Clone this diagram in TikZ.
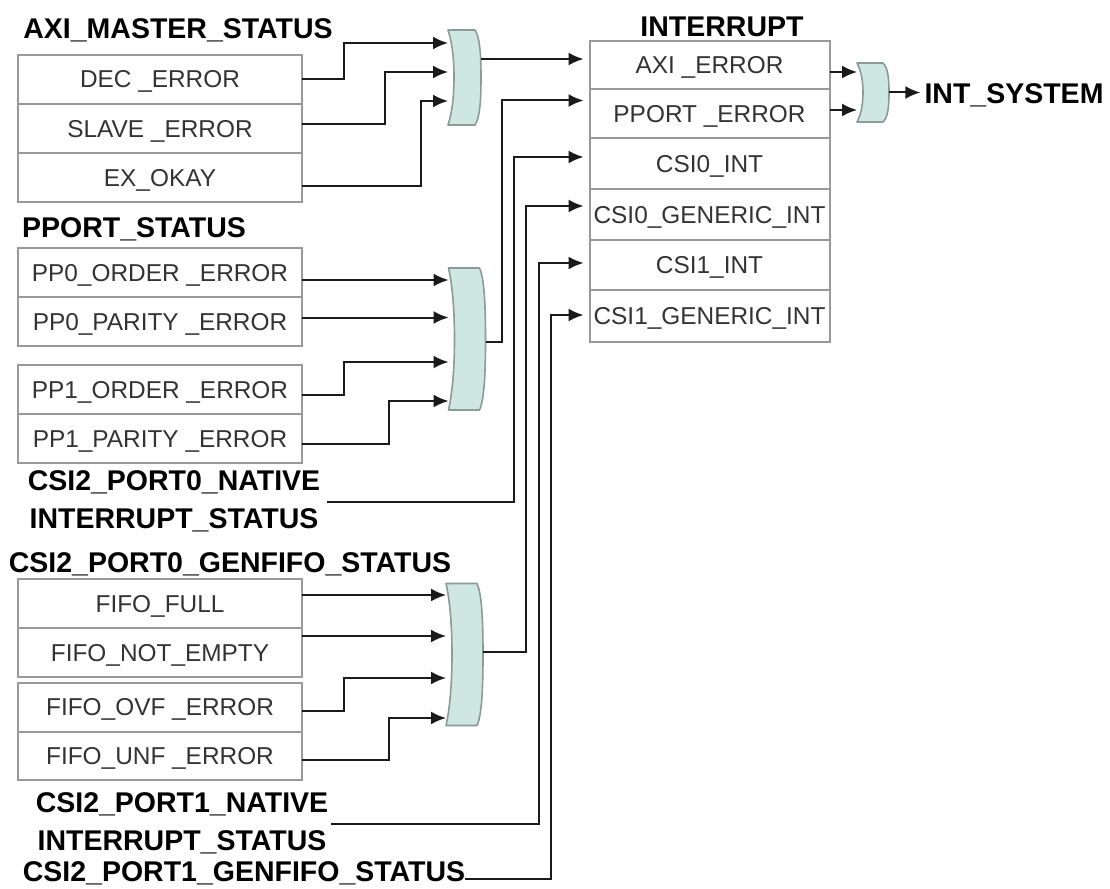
\documentclass[tikz,border=0pt]{standalone}
\usepackage{fontspec}
\setmainfont{Liberation Sans}
\usepackage{tikz}
\usetikzlibrary{arrows.meta,positioning,calc}
\definecolor{gateFill}{HTML}{CFE7E3}
\definecolor{gateLine}{HTML}{8C9A98}
\definecolor{cellLine}{HTML}{999999}
\definecolor{wireCol}{HTML}{1A1A1A}
\definecolor{cellText}{HTML}{333333}
\newcommand{\orgate}[5]{%
  \node[minimum width=#4pt, minimum height=#5pt, inner sep=0pt, outer sep=0pt] (#1) at (#2,#3) {};
  \draw[gatebody] (#1.north west) -- ([xshift=-6pt]#1.north east)
    .. controls ($(#1.north east)!0.15!(#1.east)+(-1,0)$) and ($(#1.north east)!0.55!(#1.east)$) .. (#1.east)
    .. controls ($(#1.south east)!0.55!(#1.east)$) and ($(#1.south east)!0.15!(#1.east)+(-1,0)$) .. ([xshift=-6pt]#1.south east)
    -- (#1.south west)
    .. controls ($(#1.south west)!0.25!(#1.west)+(4,0)$) and ($(#1.south west)!0.6!(#1.west)+(6,0)$) .. ([xshift=6pt]#1.west)
    .. controls ($(#1.north west)!0.6!(#1.west)+(6,0)$) and ($(#1.north west)!0.25!(#1.west)+(4,0)$) .. (#1.north west)
    -- cycle;
}
\begin{document}
\begin{tikzpicture}[
  x=1pt, y=-1pt, >={Latex[length=15pt,width=13pt]}, node distance=0pt,
  cell/.style={draw=cellLine, line width=2pt, minimum width=284pt, minimum height=49pt, inner sep=0pt, outer sep=0pt, text=cellText, text height=17pt, text depth=0pt, font=\fontsize{24.4}{26}\selectfont},
  irq/.style={cell, minimum width=240pt},
  head/.style={inner sep=0pt, align=center, text=black, font=\fontsize{28.5}{38}\selectfont\bfseries},
  gatebody/.style={draw=gateLine, fill=gateFill, line width=1.6pt, line join=round},
  wire/.style={->, draw=wireCol, line width=2pt}
]
\useasboundingbox (0,0) rectangle (1110,888);
% axi master status
\node[head] (axihead) at (178,30) {AXI\_MASTER\_STATUS};
\node[cell] (dec) at (160,79.5) {DEC \_ERROR};
\node[cell, below=of dec] (slave) {SLAVE \_ERROR};
\node[cell, below=of slave] (okay) {EX\_OKAY};
% pport status
\node[head] (pporthead) at (134,229) {PPORT\_STATUS};
\node[cell] (pp0o) at (160,272.5) {PP0\_ORDER \_ERROR};
\node[cell, below=of pp0o] (pp0p) {PP0\_PARITY \_ERROR};
\node[cell] (pp1o) at (160,389.5) {PP1\_ORDER \_ERROR};
\node[cell, below=of pp1o] (pp1p) {PP1\_PARITY \_ERROR};
\node[head] (nat0) at (174,501.5) {CSI2\_PORT0\_NATIVE\\INTERRUPT\_STATUS};
% genfifo status
\node[head] (gen0) at (230,564) {CSI2\_PORT0\_GENFIFO\_STATUS};
\node[cell] (full) at (160,603.5) {FIFO\_FULL};
\node[cell, below=of full] (nempty) {FIFO\_NOT\_EMPTY};
\node[cell] (ovf) at (160,707) {FIFO\_OVF \_ERROR};
\node[cell, below=of ovf, minimum height=48pt] (unf) {FIFO\_UNF \_ERROR};
\node[head] (nat1) at (182,823.5) {CSI2\_PORT1\_NATIVE\\INTERRUPT\_STATUS};
\node[head] (gen1) at (244,873) {CSI2\_PORT1\_GENFIFO\_STATUS};
% interrupt register
\node[head] (inthead) at (722,27) {INTERRUPT};
\node[irq, minimum height=48pt] (axi) at (709.5,65) {AXI \_ERROR};
\node[irq] (pport) at (709.5,113.5) {PPORT \_ERROR};
\node[irq, minimum height=51pt] (csi0) at (709.5,163.5) {CSI0\_INT};
\node[irq, minimum height=51pt] (csi0g) at (709.5,214.5) {CSI0\_GENERIC\_INT};
\node[irq, minimum height=50pt] (csi1) at (709.5,265) {CSI1\_INT};
\node[irq, minimum height=52pt] (csi1g) at (709.5,316) {CSI1\_GENERIC\_INT};
\node[head] (intsys) at (1014,95) {INT\_SYSTEM};
% gates
\orgate{gateaxi}{464.5}{77.5}{33}{95}
\orgate{gatepp}{467}{339}{37}{142}
\orgate{gatefifo}{464.5}{654.5}{37}{142}
\orgate{gateint}{873}{92.5}{32}{59}
% wire risers
\coordinate (bendl) at (344,0);
\coordinate (bendm) at (385,0);
\coordinate (bendn) at (389,0);
\coordinate (bendr) at (421,0);
\coordinate (riserpp) at (502,0);
\coordinate (risernat0) at (514,0);
\coordinate (riserfifo) at (526,0);
\coordinate (risernat1) at (539,0);
\coordinate (risergen1) at (551,0);
% gate inputs
\draw[wire] (dec.east) -- (dec.east -| bendl) |- ([yshift=34.5pt]gateaxi.west);
\draw[wire] ([yshift=4pt]slave.east) -- ([yshift=4pt]slave.east -| bendm) |- ([yshift=5.5pt]gateaxi.west);
\draw[wire] ([yshift=-8pt]okay.east) -- ([yshift=-8pt]okay.east -| bendr) |- ([yshift=-23.5pt]gateaxi.west);
\draw[wire] ([yshift=-7.5pt]pp0o.east) -- ([yshift=59pt]gatepp.west);
\draw[wire] ([yshift=4pt]pp0p.east) -- ([yshift=21.5pt]gatepp.west);
\draw[wire] ([yshift=-5.5pt]pp1o.east) -- ([yshift=-5.5pt]pp1o.east -| bendl) |- ([yshift=-23pt]gatepp.west);
\draw[wire] ([yshift=-5pt]pp1p.east) -- ([yshift=-5pt]pp1p.east -| bendn) |- ([yshift=-62pt]gatepp.west);
\draw[wire] ([yshift=8.5pt]full.east) -- ([yshift=59.5pt]gatefifo.west);
\draw[wire] ([yshift=16.5pt]nempty.east) -- ([yshift=18.5pt]gatefifo.west);
\draw[wire] ([yshift=-4pt]ovf.east) -- ([yshift=-4pt]ovf.east -| bendl) |- ([yshift=-23.5pt]gatefifo.west);
\draw[wire] ([yshift=-4pt]unf.east) -- ([yshift=-4pt]unf.east -| bendn) |- ([yshift=-63.5pt]gatefifo.west);
% register inputs
\draw[wire] ([yshift=18.5pt]gateaxi.east) -- ([xshift=-6pt,yshift=6pt]axi.west);
\draw[wire] ([yshift=-3pt]gatepp.east) -- ([yshift=-3pt]gatepp.east -| riserpp) |- ([xshift=-6pt,yshift=13pt]pport.west);
\draw[wire] ([xshift=7pt]nat0.east) -- (nat0.east -| risernat0) |- ([xshift=-6pt,yshift=6.5pt]csi0.west);
\draw[wire] ([yshift=3pt]gatefifo.east) -- ([yshift=3pt]gatefifo.east -| riserfifo) |- ([xshift=-6pt,yshift=8.5pt]csi0g.west);
\draw[wire] ([xshift=3pt]nat1.east) -- (nat1.east -| risernat1) |- ([xshift=-6pt,yshift=2pt]csi1.west);
\draw[wire] ([yshift=-6pt]gen1.east) -- ([yshift=-6pt]gen1.east -| risergen1) |- ([xshift=-6pt,yshift=1pt]csi1g.west);
% output gate
\draw[wire] ([yshift=-7pt]axi.east) -- ([yshift=20.5pt]gateint.west);
\draw[wire] ([yshift=3.5pt]pport.east) -- ([yshift=-17.5pt]gateint.west);
\draw[wire, shorten >=4pt] (gateint.east) -- (gateint.east -| intsys.west);
\end{tikzpicture}
\end{document}
